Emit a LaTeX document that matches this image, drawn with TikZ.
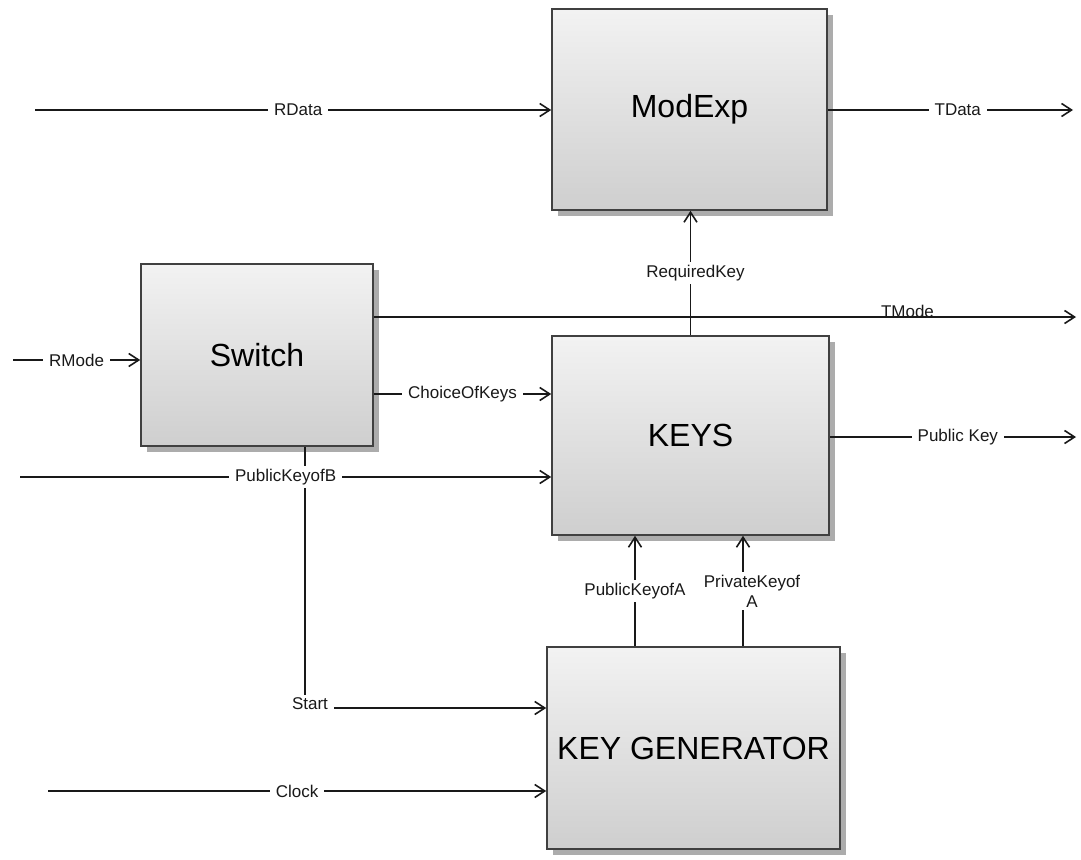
\documentclass[tikz,border=0pt]{standalone}
\usepackage{fontspec}
\setmainfont{Liberation Sans}
\usetikzlibrary{arrows.meta,shadows,positioning}

\tikzset{
  block/.style={draw=black!75, line width=1.6pt, top color=gray!10, bottom color=gray!38,
    font=\fontsize{32}{38}\selectfont, text=black, inner sep=0pt,
    drop shadow={shadow xshift=6pt, shadow yshift=-6pt, fill=gray!65, opacity=1}},
  wire/.style={draw=black!90, line width=1.6pt, -{Straight Barb[length=10pt,width=13pt]}},
  lbl/.style={fill=white, inner xsep=6pt, inner ysep=3pt, font=\fontsize{17}{20}\selectfont, text=black!90},
}

\begin{document}
\begin{tikzpicture}[x=1pt,y=-1pt]
  \useasboundingbox (0,0) rectangle (1081,859);

  % Draw the four blocks (name/centre x/centre y/width/height/text)
  \foreach \name/\cx/\cy/\w/\h/\txt in {modexp/689.5/109.5/275/201/ModExp,
                                        switch/257/355/232/182/Switch,
                                        keys/690.5/435.5/277/199/KEYS,
                                        keygen/693.5/748/293/202/KEY GENERATOR} {
    \node[block, minimum width=\w, minimum height=\h] (\name) at (\cx,\cy) {\txt};
  }

  % Free ends of the inputs and outputs
  \coordinate (rdata-in) at (35,110);
  \coordinate (tdata-out) at (1073,110);
  \coordinate (tmode-out) at (1076,317);
  \coordinate (rmode-in) at (13,360);
  \coordinate (pkb-in) at (20,477);
  \coordinate (pk-out) at (1076,437);
  \coordinate (clock-in) at (48,791);

  % ModExp in and out
  \draw[wire] (rdata-in) -- node[lbl, pos=0.51] {RData} (rdata-in -| modexp.west);
  \draw[wire] (modexp.east |- tdata-out) -- node[lbl, pos=0.53] {TData} (tdata-out);
  \draw[wire] (keys.north) -- node[lbl, xshift=5pt] {RequiredKey} (keys.north |- modexp.south);

  % Switch
  \draw[wire] (rmode-in) -- node[lbl] {RMode} (rmode-in -| switch.west);
  \draw[wire] (switch.east |- tmode-out) -- node[pos=0.76, anchor=base, inner sep=0pt,
    font=\fontsize{17}{20}\selectfont, text=black!90] {TMode} (tmode-out);
  \draw[wire] (switch.east |- 0,394) -- node[lbl] {ChoiceOfKeys} (keys.west |- 0,394);
  \draw[wire] ([xshift=48pt]switch.south) |- node[lbl, pos=0.5, xshift=5pt, yshift=4pt] {Start} (keygen.west |- 0,708);

  % KEYS in and out
  \draw[wire] (pkb-in) -- node[lbl] {PublicKeyofB} (pkb-in -| keys.west);
  \draw[wire] (keys.east |- pk-out) -- node[lbl, pos=0.52] {Public Key} (pk-out);

  % KEY GENERATOR
  \draw[wire] (keygen.north -| 635,0) -- node[lbl] {PublicKeyofA} (keys.south -| 635,0);
  \draw[wire] (keygen.north -| 743,0) -- node[lbl, align=center, xshift=9pt] {PrivateKeyof\\A} (keys.south -| 743,0);
  \draw[wire] (clock-in) -- node[lbl] {Clock} (clock-in -| keygen.west);

\end{tikzpicture}
\end{document}
